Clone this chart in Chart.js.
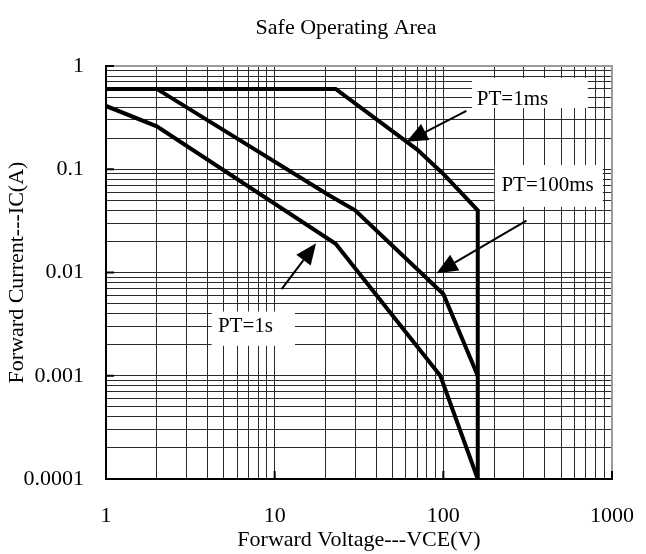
<!DOCTYPE html>
<html>
<head>
<meta charset="utf-8">
<script src="https://cdn.jsdelivr.net/npm/chart.js@4.4.0/dist/chart.umd.min.js"></script>
<style>
  html, body { margin: 0; padding: 0; background: #fff; }
  canvas { display: block; }
</style>
</head>
<body>
<canvas id="soa" width="646" height="554"></canvas>
<script>
// tick labels for the two log axes (one per decade)
const xTickLabels = ["1", "10", "100", "1000"];
const yTickLabels = ["0.0001", "0.001", "0.01", "0.1", "1"];

// SOA curves, VCE in volts, IC in amps
const vce1ms = [1, 23, 70, 100, 160, 160];
const ic1ms = [0.6, 0.6, 0.155, 0.09, 0.04, 0.0001];
const vce100ms = [1, 2, 21, 30, 100, 160];
const ic100ms = [0.6, 0.6, 0.056, 0.04, 0.0062, 0.001];
const vce1s = [1, 2, 23, 96, 160];
const ic1s = [0.41, 0.26, 0.019, 0.001, 0.0001];

// callouts, all in data units: box = [x1, y1, x2, y2], at = text start
const notes = [
    {text: "PT=1ms", box: [148, 0.765, 718, 0.392], at: [158, 0.469], tail: [137, 0.367], tip: [60.5, 0.185]},
    {text: "PT=100ms", box: [202, 0.110, 881, 0.0432], at: [221, 0.0689], tail: [311, 0.0318], tip: [91.2, 0.00984]},
    {text: "PT=1s", box: [4.23, 0.00419, 13.2, 0.00195], at: [4.61, 0.00297], tail: [11.0, 0.00689], tip: [17.6, 0.0192]}
];

const FONT = "'Liberation Serif', 'Times New Roman', serif";

const toPoints = (xs, ys)=> xs.map((v, i)=> ({x: v, y: ys[i]}));
const isMajor = (v)=> Math.abs(Math.log10(v) - Math.round(Math.log10(v))) < 1e-9;

function logTicks(lo, hi) {
    let t = [];
    for(let e = lo; e < hi; e++)
        for(let m = 1; m < 10; m++)
            t.push(m * Math.pow(10, e));
    t.push(Math.pow(10, hi));
    return t.map(v => ({value: v, major: isMajor(v)}));
}

function curve(xs, ys) {
    return {
        data: toPoints(xs, ys),
        showLine: true,
        borderColor: "#000",
        borderWidth: 4,
        pointRadius: 0,
        fill: false,
        tension: 0
    };
}

const decor = {
    id: "decor",
    afterDatasetsDraw(chart) {
        const {ctx, scales: {x, y}} = chart;
        ctx.save();
        notes.forEach(n => {
            let x1 = x.getPixelForValue(n.box[0]), y1 = y.getPixelForValue(n.box[1]);
            let x2 = x.getPixelForValue(n.box[2]), y2 = y.getPixelForValue(n.box[3]);
            ctx.fillStyle = "#fff";
            ctx.fillRect(x1, y1, x2 - x1, y2 - y1);

            ctx.fillStyle = "#000";
            ctx.font = "21px " + FONT;
            ctx.textAlign = "left";
            ctx.textBaseline = "middle";
            ctx.fillText(n.text, x.getPixelForValue(n.at[0]), y.getPixelForValue(n.at[1]));

            // arrow with filled head
            let tx = x.getPixelForValue(n.tail[0]), ty = y.getPixelForValue(n.tail[1]);
            let px = x.getPixelForValue(n.tip[0]), py = y.getPixelForValue(n.tip[1]);
            let ang = Math.atan2(py - ty, px - tx);
            let len = 21, half = 9;
            let bx = px - len * Math.cos(ang), by = py - len * Math.sin(ang);
            ctx.strokeStyle = "#000";
            ctx.lineWidth = 2;
            ctx.beginPath();
            ctx.moveTo(tx, ty);
            ctx.lineTo(bx, by);
            ctx.stroke();
            ctx.beginPath();
            ctx.moveTo(px, py);
            ctx.lineTo(bx + half * Math.sin(ang), by - half * Math.cos(ang));
            ctx.lineTo(bx - half * Math.sin(ang), by + half * Math.cos(ang));
            ctx.closePath();
            ctx.fill();
        });
        ctx.restore();
    },
    afterDraw(chart) {
        const {ctx, chartArea: a, scales: {x, y}} = chart;
        ctx.save();
        // grey top and right frame
        ctx.strokeStyle = "#9a9a9a";
        ctx.lineWidth = 2;
        ctx.beginPath();
        ctx.moveTo(a.left, a.top);
        ctx.lineTo(a.right, a.top);
        ctx.lineTo(a.right, a.bottom);
        ctx.stroke();

        // short major tick marks inside the frame
        ctx.strokeStyle = "#000";
        ctx.lineWidth = 2;
        y.ticks.filter(t => t.major).forEach(t => {
            let p = y.getPixelForValue(t.value);
            ctx.beginPath();
            ctx.moveTo(a.left, p);
            ctx.lineTo(a.left + 8, p);
            ctx.stroke();
        });
        x.ticks.filter(t => t.major).forEach(t => {
            let p = x.getPixelForValue(t.value);
            ctx.beginPath();
            ctx.moveTo(p, a.bottom);
            ctx.lineTo(p, a.bottom - 8);
            ctx.stroke();
        });

        ctx.fillStyle = "#000";
        ctx.font = "22px " + FONT;
        ctx.textAlign = "center";
        ctx.textBaseline = "middle";
        ctx.fillText("Safe Operating Area", 346, 28);
        ctx.restore();
    }
};

window.onload = ()=> {
    new Chart("soa", {
        type: "scatter",
        data: {
            datasets: [
                curve(vce1ms, ic1ms),
                curve(vce100ms, ic100ms),
                curve(vce1s, ic1s)
            ]
        },
        options: {
            responsive: false,
            animation: false,
            devicePixelRatio: 1,
            layout: {padding: {top: 66, right: 34, bottom: 0, left: 0}},
            plugins: {
                legend: {display: false},
                tooltip: {enabled: false}
            },
            scales: {
                x: {
                    type: "logarithmic",
                    position: "bottom",
                    min: 1,
                    max: 1000,
                    afterBuildTicks: s => { s.ticks = logTicks(0, 3); },
                    afterFit: s => { s.height = 75; s.paddingLeft = 0; s.paddingRight = 0; },
                    grid: {color: "#2a2a2a", lineWidth: 1, drawTicks: false},
                    border: {color: "#000", width: 2},
                    ticks: {
                        autoSkip: false,
                        maxRotation: 0,
                        padding: 24,
                        color: "#000",
                        font: {family: FONT, size: 22},
                        callback: v => isMajor(v) ? xTickLabels[Math.round(Math.log10(v))] : ""
                    },
                    title: {
                        display: true,
                        text: "Forward Voltage---VCE(V)",
                        color: "#000",
                        font: {family: FONT, size: 22},
                        padding: {top: 0, bottom: 1}
                    }
                },
                y: {
                    type: "logarithmic",
                    position: "left",
                    min: 0.0001,
                    max: 1,
                    afterBuildTicks: s => { s.ticks = logTicks(-4, 0); },
                    afterFit: s => { s.width = 106; s.paddingTop = 0; s.paddingBottom = 0; },
                    grid: {color: "#2a2a2a", lineWidth: 1, drawTicks: false},
                    border: {color: "#000", width: 2},
                    ticks: {
                        autoSkip: false,
                        padding: 22,
                        color: "#000",
                        font: {family: FONT, size: 22},
                        callback: v => isMajor(v) ? yTickLabels[Math.round(Math.log10(v)) + 4] : ""
                    },
                    title: {
                        display: true,
                        text: "Forward Current---IC(A)",
                        color: "#000",
                        font: {family: FONT, size: 22},
                        padding: {top: 4, bottom: 0}
                    }
                }
            }
        },
        plugins: [decor]
    });
};
</script>
</body>
</html>
